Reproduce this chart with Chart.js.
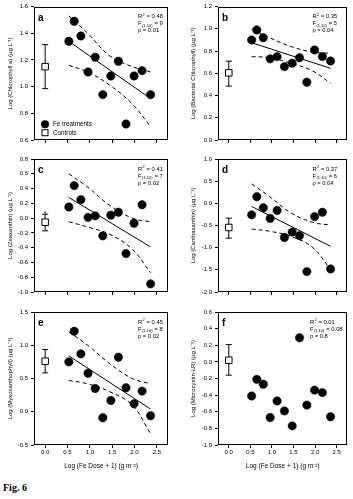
<!DOCTYPE html>
<html>
<head>
<meta charset="utf-8">
<script src="https://cdn.jsdelivr.net/npm/chart.js@4.4.1/dist/chart.umd.min.js"></script>
<style>
  html, body { margin: 0; padding: 0; background: #fff; }
  body { width: 353px; height: 499px; position: relative; overflow: hidden; }
  canvas { position: absolute; }
  #fig { position: absolute; left: 3px; top: 482px; font: bold 10px "Liberation Serif", "Times New Roman", serif; }
</style>
</head>
<body>
<div id="fig">Fig. 6</div>
<script>
// x values shared by all panels: Log (Fe Dose + 1)
const doseX = [0.53, 0.65, 0.80, 0.96, 1.12, 1.29, 1.47, 1.64, 1.81, 1.99, 2.17, 2.36];
const xTicks = [0, 0.5, 1.0, 1.5, 2.0, 2.5];

// Fe treatment values per panel
const chlA    = [1.34, 1.49, 1.38, 1.11, 1.22, 0.94, 1.08, 1.19, 0.72, 1.08, 1.12, 0.94];
const bactChl = [0.90, 0.99, 0.92, 0.73, 0.75, 0.66, 0.69, 0.74, 0.52, 0.81, 0.75, 0.71];
const zeax    = [0.15, 0.44, 0.25, 0.01, 0.03, -0.24, 0.04, 0.08, -0.48, -0.07, 0.18, -0.89];
const canthax = [-0.26, 0.15, -0.10, -0.34, -0.16, -0.77, -0.65, -0.73, -1.54, -0.30, -0.20, -1.48];
const myxo    = [0.75, 1.21, 0.87, 0.58, 0.35, -0.09, 0.17, 0.82, 0.36, 0.12, 0.31, -0.06];
const mclr    = [-0.41, -0.21, -0.27, -0.67, -0.47, -0.59, -0.77, 0.29, -0.52, -0.34, -0.37, -0.66];

// controls: mean, low, high
const ctrlChlA    = [1.15, 0.985, 1.315];
const ctrlBactChl = [0.604, 0.485, 0.709];
const ctrlZeax    = [-0.055, -0.172, 0.053];
const ctrlCanthax = [-0.545, -0.785, -0.335];
const ctrlMyxo    = [0.76, 0.585, 0.935];
const ctrlMclr    = [0.02, -0.16, 0.208];

// regression lines (start, end) and 95% bands
const fitX = [0.53, 2.36];
const fitChlA    = [1.34, 0.91];
const fitBactChl = [0.875, 0.645];
const fitZeax    = [0.28, -0.39];
const fitCanthax = [-0.07, -0.97];
const fitMyxo    = [0.84, 0.04];

const bandX = [0.53, 0.95, 1.45, 1.95, 2.36];
const upChlA    = [1.53, 1.40, 1.23, 1.15, 1.11];
const loChlA    = [1.16, 1.11, 1.01, 0.87, 0.70];
const upBactChl = [1.00, 0.92, 0.84, 0.79, 0.78];
const loBactChl = [0.75, 0.74, 0.69, 0.62, 0.51];
const upZeax    = [0.60, 0.42, 0.17, 0.00, -0.05];
const loZeax    = [-0.05, -0.12, -0.22, -0.42, -0.74];
const upCanthax = [0.44, 0.15, -0.22, -0.43, -0.49];
const loCanthax = [-0.58, -0.63, -0.75, -1.00, -1.50];
const upMyxo    = [1.20, 1.00, 0.72, 0.50, 0.42];
const loMyxo    = [0.47, 0.42, 0.30, 0.10, -0.33];

// statistics text
const letters = ["a", "b", "c", "d", "e", "f"];
const r2Vals = ["0.48", "0.35", "0.41", "0.37", "0.45", "0.01"];
const fVals  = ["9", "5", "7", "6", "8", "0.08"];
const pVals  = ["0.01", "0.04", "0.02", "0.04", "0.02", "0.8"];

const yTitles = [
  "Log (Chlorophyll a) (\u00b5g L\u207b\u00b9)",
  "Log (Bacterial Chlorophyll) (\u00b5g L\u207b\u00b9)",
  "Log (Zeaxanthin) (\u00b5g L\u207b\u00b9)",
  "Log (Canthaxanthin) (\u00b5g L\u207b\u00b9)",
  "Log (Myxoxanthophyll) (\u00b5g L\u207b\u00b9)",
  "Log (Microcystin-LR) (\u00b5g L\u207b\u00b9)"
];
const xTitle = "Log (Fe Dose + 1) (g m\u207b\u00b2)";

const FONT = '"Liberation Sans", Arial, sans-serif';
Chart.defaults.color = "#000";
Chart.defaults.font.family = FONT;

const pts = (xs, ys) => xs.map((x, i) => ({ x: x, y: ys[i] }));

// frame, panel letter, stats, legend
const panelDeco = {
  id: "panelDeco",
  afterDraw(chart, args, o) {
    const { ctx, chartArea: a } = chart;
    const L = Math.round(a.left) + 0.5, T = Math.round(a.top) + 0.5;
    const R = Math.round(a.right) - 0.5, B = Math.round(a.bottom) - 0.5;
    const f = s => s + "px " + FONT;
    ctx.save();
    ctx.strokeStyle = "#000";
    ctx.lineWidth = 1;
    ctx.strokeRect(L, T, R - L, B - T);
    ctx.fillStyle = "#000";
    ctx.textAlign = "left";
    ctx.textBaseline = "alphabetic";

    ctx.font = "bold " + f(10);
    ctx.fillText(o.letter, a.left + 4, a.top + 14);

    const sx = a.right - o.statsOff;
    let x = sx, y = a.top + 11.5;
    ctx.font = f(5.8);
    ctx.fillText("R", x, y); x += ctx.measureText("R").width;
    ctx.font = f(4);
    ctx.fillText("2", x + 0.3, y - 2.6); x += ctx.measureText("2").width + 0.6;
    ctx.font = f(5.8);
    ctx.fillText(" = " + o.r2, x, y);
    x = sx; y += 7;
    ctx.fillText("F", x, y); x += ctx.measureText("F").width;
    ctx.font = f(4);
    ctx.fillText("(1,10)", x + 0.5, y + 1.6); x += ctx.measureText("(1,10)").width + 0.8;
    ctx.font = f(5.8);
    ctx.fillText(" = " + o.f, x, y);
    y += 7;
    ctx.fillText("p = " + o.p, sx, y);

    if (o.legend) {
      const lx = a.left + 11;
      ctx.beginPath();
      ctx.arc(lx, a.bottom - 15.7, 4, 0, Math.PI * 2);
      ctx.fill();
      ctx.fillStyle = "#fff";
      ctx.fillRect(lx - 3, a.bottom - 10.3, 6, 6);
      ctx.strokeRect(lx - 3, a.bottom - 10.3, 6, 6);
      ctx.fillStyle = "#000";
      ctx.font = f(6.3);
      ctx.textBaseline = "middle";
      ctx.fillText("Fe treatments", lx + 8, a.bottom - 15.5);
      ctx.fillText("Controls", lx + 8, a.bottom - 7.2);
    }
    if (o.star) {
      const sxp = chart.scales.x.getPixelForValue(0);
      const syp = chart.scales.y.getPixelForValue(o.star);
      ctx.font = f(7);
      ctx.textAlign = "center";
      ctx.textBaseline = "alphabetic";
      ctx.fillText("*", sxp, syp + 1.5);
    }
    ctx.restore();
  }
};

const panels = [
  { id: 0, vals: chlA, ctrl: ctrlChlA, fit: fitChlA, up: upChlA, lo: loChlA, yMin: 0.6, yMax: 1.6, step: 0.2, col: 0, row: 0, legend: true },
  { id: 1, vals: bactChl, ctrl: ctrlBactChl, fit: fitBactChl, up: upBactChl, lo: loBactChl, yMin: 0, yMax: 1.2, step: 0.2, col: 1, row: 0 },
  { id: 2, vals: zeax, ctrl: ctrlZeax, fit: fitZeax, up: upZeax, lo: loZeax, yMin: -1, yMax: 0.8, step: 0.2, col: 0, row: 1, star: true },
  { id: 3, vals: canthax, ctrl: ctrlCanthax, fit: fitCanthax, up: upCanthax, lo: loCanthax, yMin: -2, yMax: 1, step: 0.5, col: 1, row: 1 },
  { id: 4, vals: myxo, ctrl: ctrlMyxo, fit: fitMyxo, up: upMyxo, lo: loMyxo, yMin: -0.5, yMax: 1.5, step: 0.5, col: 0, row: 2 },
  { id: 5, vals: mclr, ctrl: ctrlMclr, fit: null, yMin: -1, yMax: 0.6, step: 0.2, col: 1, row: 2 }
];

// canvas geometry per column / row
const cols = [
  { left: 0, width: 176, yw: 34, padR: 8, titlePad: 6.4, statsOff: 30 },
  { left: 176, width: 177, yw: 42, padR: 1, titlePad: 13.7, statsOff: 35 }
];
const rows = [
  { top: 0, height: 152, padT: 5, xh: 8, padB: 4, labels: false },
  { top: 152, height: 152, padT: 7, xh: 8, padB: 4, labels: false },
  { top: 304, height: 174, padT: 8, xh: 33, padB: 0, labels: true }
];

panels.forEach(p => {
  const c = cols[p.col], r = rows[p.row];
  const cv = document.createElement("canvas");
  cv.width = c.width; cv.height = r.height;
  cv.style.left = c.left + "px"; cv.style.top = r.top + "px";
  cv.style.width = c.width + "px"; cv.style.height = r.height + "px";
  document.body.appendChild(cv);

  const datasets = [
    { data: pts(doseX, p.vals), pointRadius: 4.2, pointBackgroundColor: "#000", pointBorderColor: "#000", pointBorderWidth: 0.5, showLine: false },
    { data: [{ x: 0, y: p.ctrl[0] }], pointStyle: "rect", pointRadius: 4.6, pointBackgroundColor: "#fff", pointBorderColor: "#000", pointBorderWidth: 1, showLine: false },
    { data: [{ x: 0, y: p.ctrl[1] }, { x: 0, y: p.ctrl[2] }], showLine: true, borderColor: "#000", borderWidth: 1, pointStyle: "line", pointRadius: 3, pointBorderColor: "#000", pointBorderWidth: 1 }
  ];
  if (p.fit) {
    datasets.push(
      { data: pts(fitX, p.fit), showLine: true, borderColor: "#000", borderWidth: 1, pointRadius: 0 },
      { data: pts(bandX, p.up), showLine: true, borderColor: "#000", borderWidth: 1, borderDash: [4, 3], pointRadius: 0, tension: 0.4 },
      { data: pts(bandX, p.lo), showLine: true, borderColor: "#000", borderWidth: 1, borderDash: [4, 3], pointRadius: 0, tension: 0.4 }
    );
  }

  const tickGrid = { drawOnChartArea: false, drawTicks: true, tickLength: 3, color: "#000", lineWidth: 1 };

  new Chart(cv.getContext("2d"), {
    type: "scatter",
    data: { datasets: datasets },
    options: {
      responsive: false,
      animation: false,
      events: [],
      layout: { padding: { top: r.padT, bottom: r.padB, left: 0, right: c.padR } },
      scales: {
        x: {
          type: "linear", min: -0.25, max: 2.75,
          afterFit: s => { s.height = r.xh; },
          afterBuildTicks: s => { s.ticks = xTicks.map(v => ({ value: v })); },
          border: { display: false },
          grid: tickGrid,
          ticks: {
            autoSkip: false, maxRotation: 0, padding: 1,
            font: { size: 6 },
            callback: v => r.labels ? v.toFixed(1) : ""
          },
          title: { display: r.labels, text: xTitle, font: { size: 6.5 }, padding: { top: 0, bottom: 7.4 } }
        },
        y: {
          type: "linear", min: p.yMin, max: p.yMax,
          afterFit: s => { s.width = c.yw; },
          border: { display: false },
          grid: tickGrid,
          ticks: { stepSize: p.step, autoSkip: false, padding: 3, font: { size: 6 }, callback: v => v.toFixed(1) },
          title: { display: true, text: yTitles[p.id], font: { size: 6 }, padding: { top: c.titlePad, bottom: 0 } }
        }
      },
      plugins: {
        legend: { display: false },
        tooltip: { enabled: false },
        panelDeco: {
          letter: letters[p.id], r2: r2Vals[p.id], f: fVals[p.id], p: pVals[p.id],
          statsOff: p.id === 5 ? 37.5 : c.statsOff,
          legend: !!p.legend, star: p.star ? p.ctrl[2] : null
        }
      }
    },
    plugins: [panelDeco]
  });
});
</script>
</body>
</html>
